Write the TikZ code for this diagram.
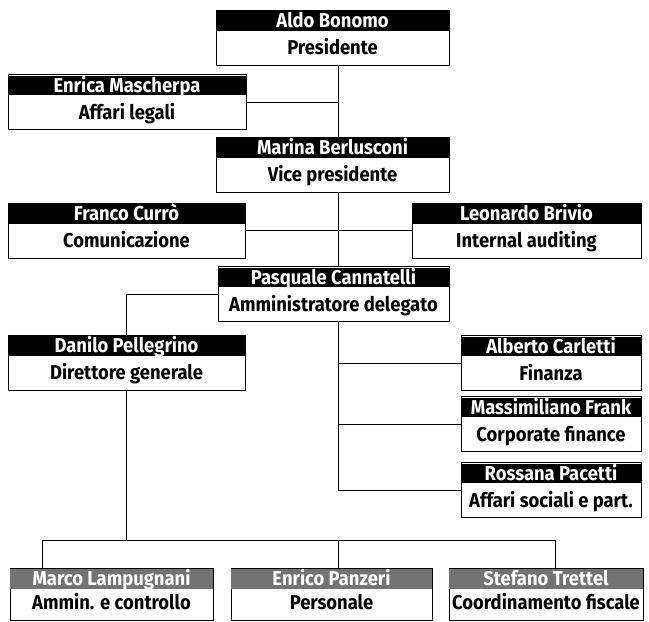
\documentclass[tikz,border=0pt]{standalone}
\usepackage{fontspec}
\setmainfont{Fira Sans}[FakeStretch=0.92]
\usetikzlibrary{calc}

\tikzset{
  pbox/.style={draw, line width=0.8pt, minimum height=55pt, inner sep=0pt},
  hd/.style={text=white, inner sep=0pt, anchor=base,
    font=\bfseries\fontsize{20}{20}\selectfont},
  role/.style={inner sep=0pt, anchor=base,
    font=\bfseries\fontsize{20}{20}\selectfont},
  link/.style={line width=0.8pt},
}

% one box: header bar on top, role below
\newlength{\hdh}
\setlength{\hdh}{21pt}
\newcommand{\person}[6][black]{%
  \node[pbox, minimum width=#4] (#2) at #3 {};
  \fill[#1] ([xshift=0.4pt,yshift=-1.5pt]#2.north west) rectangle ([xshift=-0.4pt,yshift=-\hdh]#2.north east);
  \node[hd] (#2-h) at ([yshift=-\hdh+3pt]#2.north) {#5};
  \node[role] (#2-r) at ([yshift=10.5pt]#2.south) {#6};
}

\begin{document}
\begin{tikzpicture}[x=1pt, y=-1pt]
\useasboundingbox (0,0) rectangle (649,622);

% TOP LINE
\person{aldo}{(332.5,37.5)}{233pt}{Aldo Bonomo}{Presidente}
\person{enrica}{(127,102)}{238pt}{Enrica Mascherpa}{Affari legali}
\person{marina}{(332.5,164.5)}{233pt}{Marina Berlusconi}{Vice presidente}
\person{curro}{(126.5,230.5)}{237pt}{Franco Currò}{Comunicazione}
\person{brivio}{(526.5,230.5)}{229pt}{Leonardo Brivio}{Internal auditing}
\person{pasquale}{(333.5,294)}{231pt}{Pasquale Cannatelli}{Amministratore delegato}

% STAFF OF THE CEO
\person{danilo}{(126.5,362.5)}{237pt}{Danilo Pellegrino}{Direttore generale}
\person{alberto}{(551,363)}{180pt}{Alberto Carletti}{Finanza}
\person{massimiliano}{(551,424)}{180pt}{Massimiliano Frank}{Corporate finance}
\person{rossana}{(551,490)}{180pt}{Rossana Pacetti}{Affari sociali e part.}

% BOTTOM ROW
\begin{scope}[pbox/.append style={minimum height=52pt}]
\person[black!55]{marco}{(111.5,594)}{203pt}{Marco Lampugnani}{Ammin. e controllo}
\person[black!55]{enrico}{(331.5,594)}{201pt}{Enrico Panzeri}{Personale}
\person[black!55]{stefano}{(546,594)}{194pt}{Stefano Trettel}{Coordinamento fiscale}
\end{scope}

% helper coordinates
\coordinate (spine) at (338,0);
\coordinate (dropM) at (42,540);
\coordinate (dropE) at (338,540);
\coordinate (dropS) at (555,540);

% EDGES
\draw[link] (aldo.south -| spine) -- (marina.north -| spine);
\draw[link] (enrica.east) -- (enrica.east -| spine);
\draw[link] (marina.south -| spine) -- (pasquale.north -| spine);
\draw[link] (curro.east) -- (brivio.west);
\draw[link] (pasquale.west) -| (danilo.north);
\draw[link] (pasquale.south -| spine) |- (rossana.west);
\foreach \b in {alberto, massimiliano} {
\draw[link] (\b.west -| spine) -- (\b.west);
}
\draw[link] (danilo.south) -- (danilo.south |- dropE);
\draw[link] (dropM) -- (dropS);
\draw[link] (dropM) -- (dropM |- marco.north);
\draw[link] (dropE) -- (dropE |- enrico.north);
\draw[link] (dropS) -- (dropS |- stefano.north);

\end{tikzpicture}
\end{document}
